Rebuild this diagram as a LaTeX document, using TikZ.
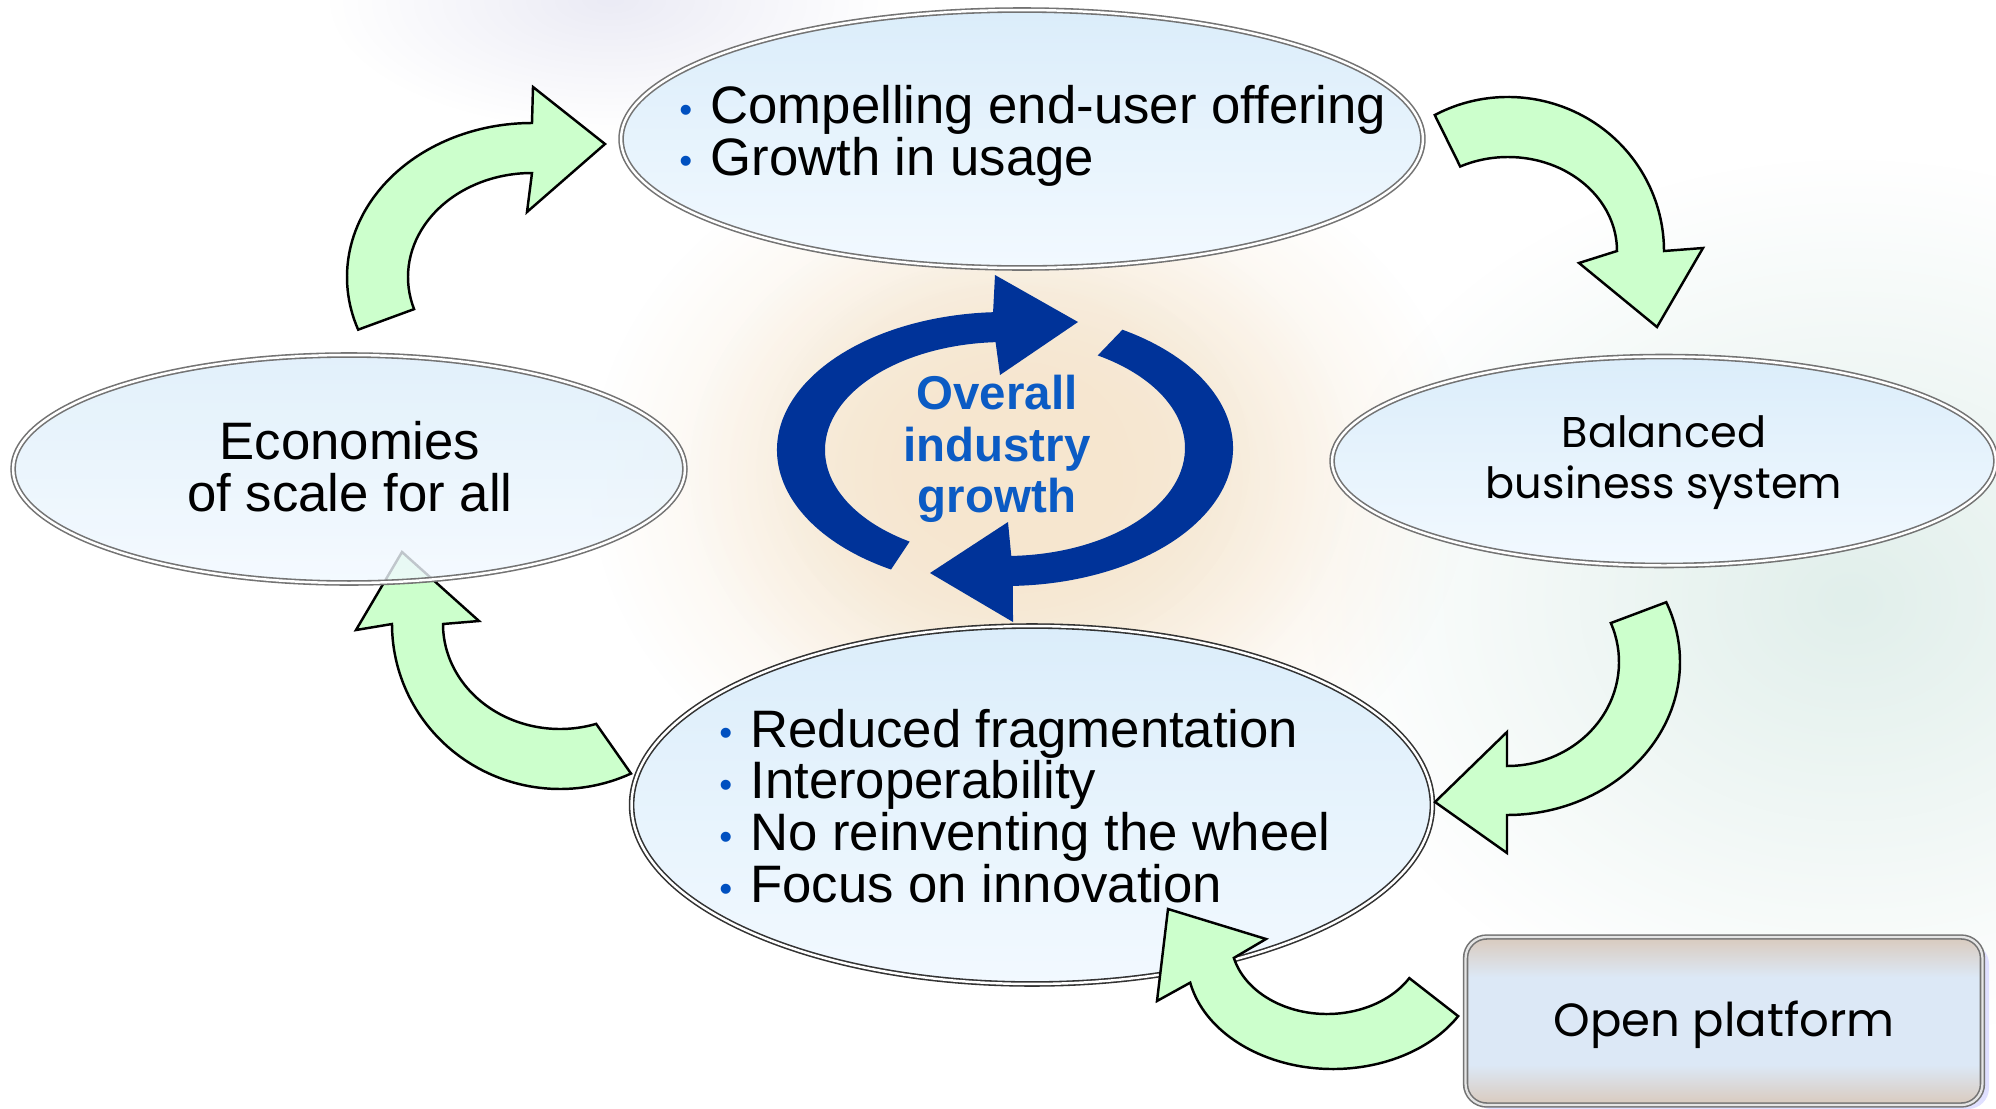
\documentclass[tikz,border=0pt]{standalone}
\usepackage{fontspec}
\setmainfont{Liberation Sans}
\newfontfamily\roundfont{Poppins}
\usepackage{tikz}
\usetikzlibrary{shapes.geometric}
\usetikzlibrary{positioning}
\usetikzlibrary{calc}
\usetikzlibrary{fadings}

\definecolor{navyarrow}{HTML}{003399}
\definecolor{growthblue}{HTML}{0B5BC4}
\definecolor{bulletblue}{HTML}{0050C0}
\definecolor{arrowgreen}{HTML}{CCFFCC}
\definecolor{bubbletop}{HTML}{DBEDFA}
\definecolor{bubblebot}{HTML}{F2F9FF}
\definecolor{boxtan}{HTML}{D9CABD}
\definecolor{boxblue}{HTML}{DCE8F6}
\definecolor{peach}{HTML}{F6E6CF}
\definecolor{lavender}{HTML}{EBEBF5}
\definecolor{seafoam}{HTML}{E1EFEB}

\tikzfading[name=glowfade, inner color=transparent!0, outer color=transparent!100]
\pgfdeclareverticalshading{platformshade}{100bp}{color(0bp)=(boxtan); color(25bp)=(boxtan); color(37bp)=(boxblue);
  color(63bp)=(boxblue); color(75bp)=(boxtan); color(100bp)=(boxtan)}

\tikzset{%
  bubble/.style = {ellipse, draw=black!55, double=white, double distance=1.4pt, line width=0.9pt,
                   top color=bubbletop, bottom color=bubblebot, inner sep=0pt},
  listtext/.style = {inner sep=0pt, align=left, font=\fontsize{30}{29.5}\selectfont},
  plaintext/.style = {inner sep=0pt, align=center, font=\fontsize{30}{29.5}\selectfont},
  roundtext/.style = {inner sep=0pt, align=center, font=\roundfont\fontsize{24.5}{29}\selectfont},
  bendarrow/.style = {fill=arrowgreen, draw=black, line width=1.4pt},
  cyclearrow/.style = {fill=navyarrow}
}
\newcommand{\itembul}{\makebox[0.59em][l]{\color{bulletblue}\raisebox{0.03em}{\scalebox{0.7}{\textbullet}}}}

\begin{document}
\begin{tikzpicture}[x=0.02cm, y=-0.02cm]
  \useasboundingbox (0,0) rectangle (1996,1109);
  \fill[white] (0,0) rectangle (1996,1109);

  % soft background glows
  \fill[lavender, path fading=glowfade] (610,0) ellipse [x radius=280, y radius=130];
  \fill[seafoam, path fading=glowfade] (1850,600) ellipse [x radius=540, y radius=440];
  \fill[peach, path fading=glowfade] (1030,478) ellipse [x radius=440, y radius=360];
  \fill[peach, path fading=glowfade] (1020,470) ellipse [x radius=330, y radius=270];
  \fill[peach, path fading=glowfade] (1010,460) ellipse [x radius=240, y radius=200];

  % arrow into the left bubble (lies under it)
  \draw[bendarrow] ($(560,624)+(65:168 and 165)$) arc[start angle=65, end angle=180, x radius=168, y radius=165]
    -- (356,630) -- (402,552) -- (479,621)
    -- ($(560,624)+(180:117 and 105)$) arc[start angle=180, end angle=72, x radius=117, y radius=105] -- cycle;

  % Specification of nodes (position, etc.)
  \node[bubble, minimum width=16.04cm, minimum height=5.16cm] (offering) at (1022,139) {};
  \node[bubble, fill opacity=0.8, minimum width=13.44cm, minimum height=4.56cm] (economies) at (349,469) {};
  \node[bubble, minimum width=13.28cm, minimum height=4.18cm] (balanced) at (1664,461) {};
  \node[bubble, draw=black!80, minimum width=16.02cm, minimum height=7.16cm] (fragmentation) at (1032,805) {};
  \fill[blue!12, rounded corners=12pt] (1470,943) rectangle (1989,1109);
  \node[rectangle, rounded corners=12pt, draw=black!55, double=white!80!gray, double distance=1.3pt, line width=0.9pt,
        shading=platformshade, minimum width=10.34cm, minimum height=3.36cm] (platform) at (1724,1021) {};

  \node[listtext, anchor=west] (offering-txt) at (679,136)
    {\itembul Compelling end-user offering\\ \itembul Growth in usage};
  \node[plaintext] (economies-txt) at (350,467) {Economies\\ of scale for all};
  \node[roundtext] (balanced-txt) at (1664,463) {Balanced\\ business system};
  \node[listtext, anchor=west] (fragmentation-txt) at (719,806)
    {\itembul Reduced fragmentation\\ \itembul Interoperability\\
     \itembul No reinventing the wheel\\ \itembul Focus on innovation};
  \node[roundtext, font=\roundfont\fontsize{26.5}{29}\selectfont] (platform-txt) at (1724,1025) {Open platform};

  % green arrows round the cycle
  \draw[bendarrow] ($(532,277)+(160:185 and 154)$) arc[start angle=160, end angle=270, x radius=185, y radius=154]
    -- (533,87) -- (605,144) -- (527,212)
    -- ($(532,277)+(270:124 and 104)$) arc[start angle=270, end angle=162, x radius=124, y radius=104] -- cycle;
  \draw[bendarrow] ($(1508,251)+(242:156 and 154)$) arc[start angle=242, end angle=360, x radius=156, y radius=154]
    -- (1703,248) -- (1657,327) -- (1579,263)
    -- ($(1508,251)+(0:109 and 94)$) arc[start angle=360, end angle=244, x radius=109, y radius=94] -- cycle;
  \draw[bendarrow] ($(1507,662)+(-23:173 and 153)$) arc[start angle=-23, end angle=90, x radius=173, y radius=153]
    -- (1507,853) -- (1435,802) -- (1507,732)
    -- ($(1507,662)+(90:112 and 104)$) arc[start angle=90, end angle=-22, x radius=112, y radius=104] -- cycle;
  \draw[bendarrow] ($(1333,960)+(31:146 and 109)$) arc[start angle=31, end angle=168, x radius=146, y radius=109]
    -- (1157,1001) -- (1168,909) -- (1266,939)
    -- ($(1327,940)+(166:96 and 74)$) arc[start angle=166, end angle=31, x radius=96, y radius=74] -- cycle;

  % the two arrows round the centre
  \fill[cyclearrow] ($(1005,450)+(120:228 and 138)$) arc[start angle=120, end angle=267, x radius=228, y radius=138]
    -- (995,275) -- (1078,322) -- (1000,375)
    -- ($(1005,450)+(267:180 and 108)$) arc[start angle=267, end angle=122, x radius=180, y radius=108] -- cycle;
  \fill[cyclearrow] ($(1005,448)+(-59:228 and 138)$) arc[start angle=-59, end angle=88, x radius=228, y radius=138]
    -- (1013,622) -- (930,573) -- (1008,522)
    -- ($(1005,448)+(88:180 and 108)$) arc[start angle=88, end angle=-59, x radius=180, y radius=108] -- cycle;
  \node[inner sep=0pt, align=center, text=growthblue, font=\bfseries\fontsize{27}{29.5}\selectfont]
    (growth) at (997,449) {Overall\\ industry\\ growth};
\end{tikzpicture}
\end{document}
